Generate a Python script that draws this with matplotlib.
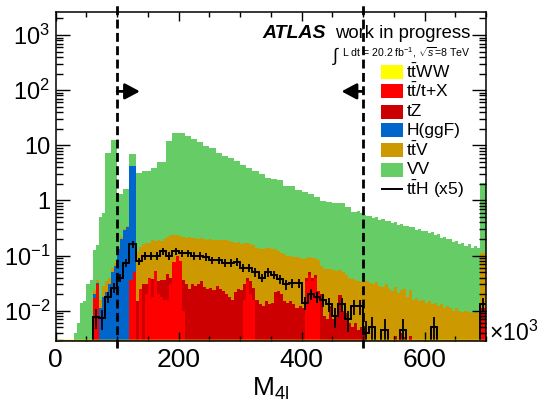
import numpy as np
import matplotlib
matplotlib.use("Agg")
import matplotlib.pyplot as plt
import matplotlib.ticker as mticker
import matplotlib.transforms as mtrans
from matplotlib.patches import Rectangle
from matplotlib.lines import Line2D

plt.rcParams['font.family'] = ['Liberation Sans', 'DejaVu Sans']
plt.rcParams['mathtext.fontset'] = 'custom'
plt.rcParams['mathtext.rm'] = 'Liberation Sans'
plt.rcParams['mathtext.it'] = 'Liberation Sans:italic'
plt.rcParams['mathtext.bf'] = 'Liberation Sans:bold'

# ---------------- data (5 GeV bins, 0-700) ----------------
bin_edges = np.arange(0, 705, 5)
tth_edges = np.arange(0, 710, 10)

vv = [0, 0, 0, 0, 0, 0, 0.004, 0.006, 0.014, 0.015,
      0.03, 0.036, 0.1, 0.12, 0.48, 0.57, 7.3, 7.3, 12.4, 12.4,
      1.15, 1.08, 1.32, 1.28, 2.64, 2.63, 3.08, 3.05, 3.25, 3.3,
      3.3, 3.7, 3.7, 4.8, 4.8, 4.8, 11.8, 11.8, 16.2, 16.2,
      16.2, 16.2, 14.4, 14.4, 12.8, 12.8, 11.1, 11.1, 9.4, 9.4,
      8.6, 8.6, 7.0, 7.0, 6.2, 6.2, 5.7, 5.7, 5.0, 5.0,
      4.2, 4.2, 3.7, 3.7, 3.3, 3.3, 2.9, 2.9, 2.45, 2.45,
      2.35, 2.35, 2.22, 2.22, 1.76, 1.76, 1.7, 1.7, 1.45, 1.45,
      1.34, 1.34, 1.24, 1.24, 1.08, 1.08, 0.92, 0.92, 0.87, 0.87,
      0.85, 0.85, 0.84, 0.84, 0.73, 0.73, 0.59, 0.59, 0.6, 0.57,
      0.52, 0.48, 0.5, 0.45, 0.46, 0.42, 0.43, 0.39, 0.4, 0.37,
      0.38, 0.34, 0.35, 0.32, 0.33, 0.3, 0.31, 0.28, 0.29, 0.26,
      0.27, 0.24, 0.25, 0.22, 0.23, 0.2, 0.21, 0.19, 0.19, 0.17,
      0.17, 0.155, 0.16, 0.14, 0.15, 0.13, 0.14, 0.13, 2.0, 2.0]

ttv = [0, 0, 0, 0, 0, 0, 0, 0, 0, 0,
       0, 0, 0.004, 0.004, 0.005, 0.01, 0.012, 0.01, 0.01, 0.01,
       0.015, 0.02, 0.02, 0.02, 0.02, 0.02, 0.1, 0.12, 0.13, 0.14,
       0.13, 0.15, 0.13, 0.16, 0.15, 0.16, 0.17, 0.2, 0.16, 0.14,
       0.15, 0.18, 0.18, 0.19, 0.18, 0.18, 0.17, 0.17, 0.17, 0.17,
       0.17, 0.17, 0.165, 0.165, 0.165, 0.17, 0.165, 0.16, 0.15, 0.15,
       0.14, 0.14, 0.13, 0.13, 0.13, 0.12, 0.12, 0.12, 0.12, 0.125,
       0.12, 0.11, 0.1, 0.09, 0.09, 0.085, 0.085, 0.08, 0.085, 0.08,
       0.075, 0.05, 0.045, 0.05, 0.045, 0.06, 0.045, 0.05, 0.05, 0.045,
       0.048, 0.045, 0.035, 0.04, 0.035, 0.033, 0.033, 0.03, 0.03, 0.028,
       0.03, 0.034, 0.032, 0.03, 0.033, 0.028, 0.027, 0.03, 0.025, 0.023,
       0.024, 0.021, 0.02, 0.022, 0.018, 0.02, 0.016, 0.017, 0.015, 0.016,
       0.014, 0.015, 0.013, 0.014, 0.012, 0.013, 0.011, 0.012, 0.011, 0.01,
       0.011, 0.01, 0.0095, 0.01, 0.0095, 0.009, 0.0095, 0.009, 0.1, 0.1]

hggf = [0, 0, 0, 0, 0, 0, 0, 0, 0, 0,
        0, 0, 0.003, 0.002, 0.011, 0.018, 0.022, 0.03, 0.05, 0.065,
        0.13, 0.2, 0.29, 0.33, 4.2, 4.2, 0, 0, 0, 0,
        0, 0, 0, 0, 0, 0, 0, 0, 0, 0,
        0, 0, 0, 0, 0, 0, 0, 0, 0, 0,
        0, 0, 0, 0, 0, 0, 0, 0, 0, 0,
        0, 0, 0, 0, 0, 0, 0, 0, 0, 0,
        0, 0, 0, 0, 0, 0, 0, 0, 0, 0,
        0, 0, 0, 0, 0, 0, 0, 0, 0, 0,
        0, 0, 0, 0, 0, 0, 0, 0, 0, 0,
        0, 0, 0, 0, 0, 0, 0, 0, 0, 0,
        0, 0, 0, 0, 0, 0, 0, 0, 0, 0,
        0, 0, 0, 0, 0, 0, 0, 0, 0, 0,
        0, 0, 0, 0, 0, 0, 0, 0, 0, 0]

tz = [0, 0, 0, 0, 0, 0, 0, 0, 0, 0,
      0, 0, 0, 0, 0, 0, 0, 0, 0, 0,
      0, 0, 0, 0, 0, 0, 0.015, 0, 0.03, 0.01,
      0, 0.02, 0, 0.015, 0.018, 0.02, 0.03, 0.01, 0, 0,
      0, 0.026, 0.03, 0.025, 0.03, 0.028, 0.03, 0.035, 0.027, 0.025,
      0.026, 0.024, 0.028, 0.025, 0.023, 0.02, 0.018, 0.016, 0.022, 0.025,
      0.024, 0.015, 0.005, 0.015, 0.01, 0.016, 0.013, 0.012, 0.015, 0.013,
      0.014, 0.022, 0.023, 0.02, 0.015, 0.014, 0.015, 0.013, 0.011, 0.012,
      0.011, 0.005, 0.005, 0.005, 0.005, 0.003, 0.02, 0.008, 0.007, 0.012,
      0.007, 0.008, 0.019, 0.01, 0.009, 0.006, 0.005, 0.006, 0.0045, 0.005,
      0.004, 0, 0, 0, 0, 0, 0, 0, 0, 0,
      0.0035, 0, 0.004, 0.0033, 0, 0.0035, 0, 0, 0, 0,
      0, 0, 0, 0, 0, 0, 0, 0, 0, 0,
      0, 0, 0, 0, 0, 0, 0, 0, 0.004, 0.004]

ttx = [0, 0, 0, 0, 0, 0, 0, 0, 0, 0,
       0, 0, 0.017, 0.03, 0, 0, 0, 0, 0, 0,
       0, 0, 0, 0, 0.036, 0.05, 0, 0.025, 0, 0.02,
       0.04, 0.018, 0.052, 0.02, 0.018, 0.016, 0.016, 0.03, 0.077, 0.1,
       0.08, 0.01, 0, 0, 0, 0, 0, 0, 0, 0,
       0, 0, 0, 0, 0, 0, 0, 0, 0, 0,
       0, 0.016, 0.035, 0.02, 0.016, 0, 0, 0, 0, 0,
       0, 0, 0, 0, 0, 0, 0, 0, 0, 0,
       0, 0.035, 0.045, 0.035, 0.04, 0.02, 0, 0, 0, 0,
       0, 0, 0, 0, 0, 0, 0, 0, 0, 0,
       0, 0, 0, 0, 0, 0, 0, 0, 0, 0,
       0, 0, 0, 0, 0, 0, 0, 0, 0, 0,
       0, 0, 0, 0, 0, 0, 0, 0, 0, 0,
       0, 0, 0, 0, 0, 0, 0, 0, 0.007, 0.007]

ttww = [0.0] * 140

# ttH (x5), 10 GeV bins
tth = [0, 0, 0, 0, 0, 0, 0.0077, 0.0075, 0.018, 0.026,
       0.04, 0.075, 0.16, 0.08, 0.1, 0.1, 0.1, 0.12, 0.1, 0.12,
       0.11, 0.11, 0.1, 0.1, 0.095, 0.083, 0.083, 0.075, 0.075, 0.078,
       0.06, 0.06, 0.05, 0.04, 0.05, 0.045, 0.038, 0.03, 0.032, 0.032,
       0.014, 0.02, 0.018, 0.016, 0.013, 0.008, 0.013, 0.007, 0.012, 0.012,
       0.004, 0.005, 0, 0.0045, 0, 0, 0.0045, 0, 0, 0,
       0, 0.005, 0, 0, 0, 0, 0, 0, 0, 0.013]

labels = [r'$\mathrm{t\bar{t}}$WW', r'$\mathrm{t\bar{t}}$/t+X', 'tZ', 'H(ggF)',
          r'$\mathrm{t\bar{t}}$V', 'VV']
colors = ['#FFFF00', '#FF0000', '#CC0000', '#0066CC', '#CC9900', '#66CC66']

# ---------------- figure ----------------
W, H = 543, 403
fig = plt.figure(figsize=(W / 100, H / 100), dpi=100)
ax = fig.add_axes([55.7 / W, 1 - 341 / H, (486 - 55.7) / W, (341 - 12.3) / H])

floor = 1e-6
layers = np.array([ttww, ttx, tz, hggf, ttv, vv], dtype=float)
cum = np.cumsum(layers, axis=0)
for k in reversed(range(len(layers))):
    ax.stairs(np.maximum(cum[k], floor), bin_edges, baseline=floor, fill=True,
              color=colors[k], lw=0)

tth = np.array(tth, dtype=float)
ax.stairs(np.maximum(tth, floor), tth_edges, baseline=None, color='k', lw=1.4)
centers = tth_edges[:-1] + 5
m = tth > 0
err = 0.13 * tth[m] + 0.002
ax.errorbar(centers[m], tth[m], yerr=err, fmt='none', ecolor='k', elinewidth=1.3)

ax.set_yscale('log')
ax.set_xlim(0, 700)
ax.set_ylim(0.00283, 2580)

# bottom line (ttWW outline at zero)
ax.axhline(0.00283, color='#FFFF00', lw=2.5, zorder=3)
ax.axhline(0.00290, color='#CC9900', lw=0.8, zorder=3)

# ticks
ax.xaxis.set_major_locator(mticker.MultipleLocator(200))
ax.xaxis.set_minor_locator(mticker.MultipleLocator(50))
ax.yaxis.set_major_locator(mticker.FixedLocator([1e-2, 1e-1, 1, 10, 100, 1000]))
ax.yaxis.set_major_formatter(mticker.FixedFormatter(
    [r'$10^{-2}$', r'$10^{-1}$', '1', '10', r'$10^{2}$', r'$10^{3}$']))
ax.yaxis.set_minor_locator(mticker.LogLocator(base=10, subs=np.arange(2, 10), numticks=20))
ax.yaxis.set_minor_formatter(mticker.NullFormatter())
ax.tick_params(axis='both', which='both', direction='in', top=True, right=True, width=1.0)
ax.tick_params(axis='x', which='major', length=6.5, labelsize=19, pad=5)
ax.tick_params(axis='x', which='minor', length=3.3)
ax.tick_params(axis='y', which='major', length=10, labelsize=17, pad=4)
ax.tick_params(axis='y', which='minor', length=5)
for s in ax.spines.values():
    s.set_linewidth(1.1)
    s.set_zorder(5)

ax.set_xlabel(r'M$_{\mathrm{4l}}$', fontsize=19, labelpad=3)

# cut lines
btr = mtrans.blended_transform_factory(ax.transData, ax.transAxes)
for xc in (100, 500):
    ax.plot([xc, xc], [-0.022, 1.022], transform=btr, color='k', lw=2.0,
            dashes=(3.2, 1.6), clip_on=False, zorder=6)
ax.annotate('', xy=(137, 95), xytext=(100, 95),
            arrowprops=dict(arrowstyle='-|>,head_length=0.6,head_width=0.32',
                            lw=2, color='k', shrinkA=0, shrinkB=0,
                            mutation_scale=15), zorder=6)
ax.annotate('', xy=(465, 95), xytext=(500, 95),
            arrowprops=dict(arrowstyle='-|>,head_length=0.6,head_width=0.32',
                            lw=2, color='k', shrinkA=0, shrinkB=0,
                            mutation_scale=15), zorder=6)

# x10^3
fig.text(489 / W, 1 - 341 / H, r'×10$^{3}$', fontsize=16.5, va='baseline', ha='left')

# ATLAS label
fig.text(262 / W, 1 - 37.5 / H, 'ATLAS', fontsize=14, weight='bold', style='italic',
         va='baseline')
fig.text(335 / W, 1 - 37.5 / H, 'work in progress', fontsize=13.3, va='baseline')
fig.text(332 / W, 1 - 56 / H, r'$\int$', fontsize=13, va='center')
fig.text(342 / W, 1 - 53 / H, r'L dt = 20.2 fb$^{-1}$, $\sqrt{s}$=8 TeV',
         fontsize=7.6, va='center')

# legend (manual)
row_y = [72, 91, 111.5, 130, 150, 169.5]
for lab, col, yy in zip(labels, colors, row_y):
    fig.patches.append(Rectangle((380.7 / W, 1 - (yy + 7) / H), 22 / W, 14 / H,
                                 transform=fig.transFigure, facecolor=col,
                                 edgecolor='none'))
    fig.text(406.5 / W, 1 - yy / H, lab, fontsize=12.5, va='center')
fig.lines.append(Line2D([381.7 / W, 401.7 / W], [1 - 189.3 / H] * 2,
                        transform=fig.transFigure, color='k', lw=1.4))
fig.text(406.5 / W, 1 - 189.3 / H, r'$\mathrm{t\bar{t}}$H (x5)', fontsize=12.5, va='center')

fig.savefig('out.png', dpi=100)
